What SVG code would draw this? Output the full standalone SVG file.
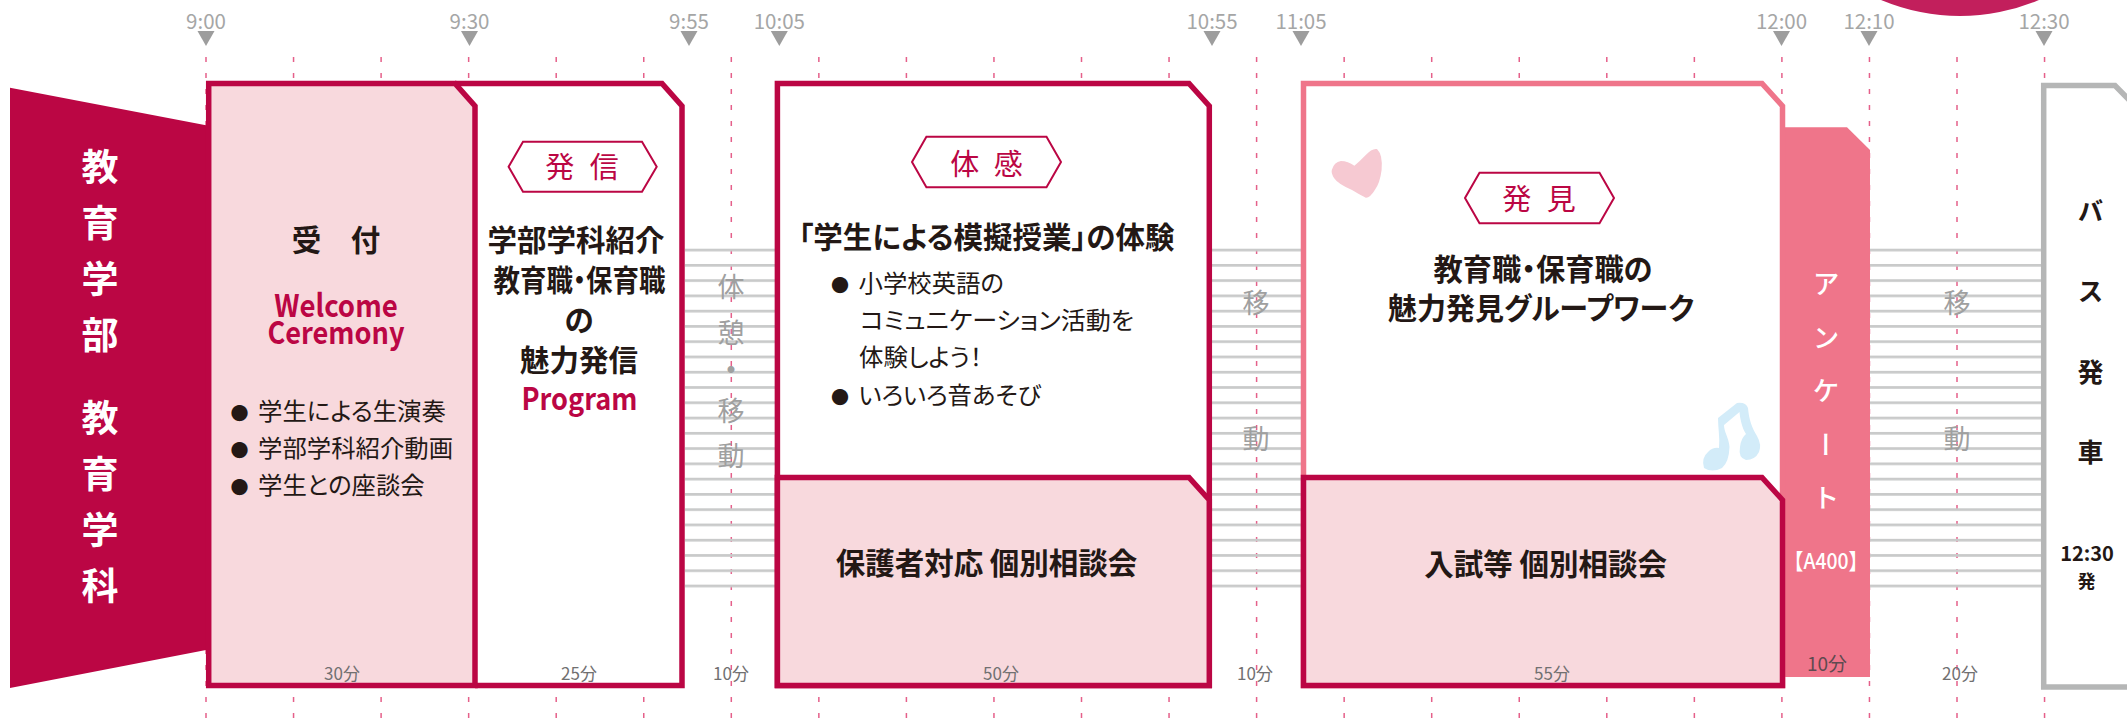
<svg xmlns="http://www.w3.org/2000/svg" xmlns:xlink="http://www.w3.org/1999/xlink" width="2127" height="718" viewBox="0 0 2127 718">
<style>
text{font-family:"Noto Sans CJK JP","Noto Sans",sans-serif;}
.time{font-size:20.5px;fill:#a5a6a6;text-anchor:middle;}
.dur{font-size:17px;fill:#717071;text-anchor:middle;}
.head{font-size:29.5px;font-weight:700;fill:#231815;text-anchor:middle;font-feature-settings:"palt";}
.en{font-size:31px;font-weight:700;fill:#bb0644;text-anchor:middle;}
.li{font-size:24.4px;fill:#231815;font-feature-settings:"palt";}
.bu{font-size:18px;}
.tag{font-size:29px;font-weight:400;fill:#bb0644;text-anchor:middle;word-spacing:9px;}
.hex{fill:#fff;stroke:#bb0644;stroke-width:2;}
.v{writing-mode:vertical-rl;}
.ban{font-size:37px;font-weight:700;fill:#fff;letter-spacing:19px;}
.gr{font-size:27px;font-weight:400;fill:#9fa0a0;}
.red{stroke:#bb0644;stroke-width:5.5;}
.pk{fill:#f8d9dd;}
.wh{fill:#fff;}
</style>
<defs>
<path id="tri" d="M-8.5 31H8.5L0 46Z" fill="#9d9d9d"/>
<pattern id="stripes" patternUnits="userSpaceOnUse" width="10" height="15.27" patternTransform="translate(0,248.7)">
<rect width="10" height="2.7" fill="#c9caca"/>
</pattern>
</defs>

<circle id="corner-circle" cx="1960" cy="-187" r="203" fill="#c21f5c"/>

<g id="connectors">
<path fill="none" stroke="#e5608a" stroke-width="1.5" stroke-dasharray="5 11" d="M206 57V718M293.55 57V718M381.1 57V718M468.65 57V718M556.2 57V718M643.75 57V718M731.3 57V718M818.85 57V718M906.4 57V718M993.95 57V718M1081.5 57V718M1169.05 57V718M1256.6 57V718M1344.15 57V718M1431.7 57V718M1519.25 57V718M1606.8 57V718M1694.35 57V718M1781.9 57V718M1869.45 57V718M1957 57V718M2044.55 57V718"/>
<rect x="685" y="248" width="91" height="340" fill="url(#stripes)"/>
<rect x="1212" y="248" width="90" height="340" fill="url(#stripes)"/>
<rect x="1869" y="248" width="173" height="340" fill="url(#stripes)"/>
</g>

<g id="time-marks">
<use xlink:href="#tri" x="206"/><use xlink:href="#tri" x="469.5"/><use xlink:href="#tri" x="689"/><use xlink:href="#tri" x="779.3"/><use xlink:href="#tri" x="1212"/><use xlink:href="#tri" x="1301"/><use xlink:href="#tri" x="1781.5"/><use xlink:href="#tri" x="1869"/><use xlink:href="#tri" x="2044"/>
<text class="time" x="206" y="29">9:00</text>
<text class="time" x="469.5" y="29">9:30</text>
<text class="time" x="689" y="29">9:55</text>
<text class="time" x="779.3" y="29">10:05</text>
<text class="time" x="1212" y="29">10:55</text>
<text class="time" x="1301" y="29">11:05</text>
<text class="time" x="1781.5" y="29">12:00</text>
<text class="time" x="1869" y="29">12:10</text>
<text class="time" x="2044" y="29">12:30</text>
</g>

<g id="banner">
<path d="M10 87.7L206 125.3V650L10 688Z" fill="#bb0644"/>
<text class="v ban" x="100" y="148.5">教育学部</text>
<text class="v ban" x="100" y="399">教育学科</text>
</g>

<g id="node-hasshin">
<path class="red wh" d="M455 83.5H662L682 106V685.5H475"/>
<path class="hex" d="M508.6 166.7L523 141.7H642L656.7 166.7L642 191.7H523Z"/>
<text class="tag" x="582" y="178">発 信</text>
<text class="head" x="576" y="251">学部学科紹介</text>
<text class="head" x="579.5" y="291" textLength="172" lengthAdjust="spacingAndGlyphs">教育職・保育職</text>
<text class="head" x="579" y="331">の</text>
<text class="head" x="579" y="371">魅力発信</text>
<text class="en" x="579.5" y="409.7" textLength="116" lengthAdjust="spacingAndGlyphs" style="font-size:31px">Program</text>
<text class="dur" x="579" y="679.5">25分</text>
</g>

<g id="node-uketsuke">
<path class="red pk" d="M208.7 83.5H455L475 106V685.5H208.7Z"/>
<text class="head" x="336" y="251" xml:space="preserve">受　付</text>
<text class="en" x="336" y="317" textLength="123.6" lengthAdjust="spacingAndGlyphs">Welcome</text>
<text class="en" x="336" y="343.5" textLength="137" lengthAdjust="spacingAndGlyphs">Ceremony</text>
<text class="li" y="419.5"><tspan class="bu" x="230.5">●</tspan><tspan x="258">学生による生演奏</tspan></text>
<text class="li" y="457"><tspan class="bu" x="230.5">●</tspan><tspan x="258">学部学科紹介動画</tspan></text>
<text class="li" y="494"><tspan class="bu" x="230.5">●</tspan><tspan x="258">学生との座談会</tspan></text>
<text class="dur" x="342" y="679.5">30分</text>
</g>

<g id="node-break1">
<text class="v gr" x="731" y="273.5" style="letter-spacing:19px">体憩</text>
<text class="gr" x="731" y="380" text-anchor="middle" style="font-weight:700">・</text>
<text class="v gr" x="731" y="397" style="letter-spacing:18.5px">移動</text>
<text class="dur" x="731" y="679.5">10分</text>
</g>

<g id="node-taikan">
<path class="red wh" d="M777.4 83.5H1189L1209.3 106V685.5H777.4Z"/>
<path class="hex" d="M912 162L926.4 136.7H1046.5L1061 162L1046.5 187.3H926.4Z"/>
<text class="tag" x="986.5" y="175" style="word-spacing:8px">体 感</text>
<text class="head" x="986.5" y="248" textLength="376" lengthAdjust="spacingAndGlyphs">「学生による模擬授業」の体験</text>
<text class="li" y="292"><tspan class="bu" x="831">●</tspan><tspan x="858.5">小学校英語の</tspan></text>
<text class="li" x="860" y="329" textLength="274" lengthAdjust="spacingAndGlyphs">コミュニケーション活動を</text>
<text class="li" x="859" y="366">体験しよう！</text>
<text class="li" y="404"><tspan class="bu" x="831">●</tspan><tspan x="858.5">いろいろ音あそび</tspan></text>
<path class="red pk" d="M777.4 477.5H1189L1209.3 500V685.5H777.4Z"/>
<text class="head" x="986.5" y="574">保護者対応 個別相談会</text>
<text class="dur" x="1001" y="679.5">50分</text>
</g>

<g id="node-move1">
<text class="v gr" x="1256" y="289" style="letter-spacing:109px">移動</text>
<text class="dur" x="1255" y="679.5">10分</text>
</g>

<g id="node-enquete">
<path d="M1780 127.3H1847L1870 150V677H1780Z" fill="#ef758a"/>
<text class="v" x="1826" y="270.5" style="font-size:27px;font-weight:500;fill:#fff;letter-spacing:26.5px">アンケート</text>
<text x="1826" y="568.7" text-anchor="middle" textLength="84" lengthAdjust="spacingAndGlyphs" style="font-size:22px;font-weight:500;fill:#fff">【A400】</text>
<text x="1827" y="671" text-anchor="middle" style="font-size:19px;fill:#5f4a50">10分</text>
</g>

<g id="node-hakken">
<path d="M1303.5 83.5H1762L1782.5 106V685.5H1303.5Z" fill="#fff" stroke="#ef758a" stroke-width="5.5"/>
<path d="M1365.8 155Q1372 148 1377 149Q1383 155 1381.6 170Q1380 183 1374.8 190Q1370 198 1365.8 197.7Q1362 196 1352 190Q1338 184 1334 178Q1331 173 1331.8 170Q1334 162 1340.9 161Q1348 161 1354.4 165.7Q1360 161 1365.8 155Z" fill="#f6c9d2"/>
<path d="M1718 418L1737 403Q1746 402 1748 408C1749 420 1752 428 1757 436Q1762 445 1759 452Q1755 460 1746 460Q1738 458 1740 447Q1741 438 1746 434C1742 428 1740 418 1739.5 412L1724 425C1724 432 1729 438 1729.5 447Q1729 462 1722 468Q1712 473 1704 468Q1701 458 1708 452Q1713 447 1719 448C1720 438 1718 428 1718 418Z" fill="#d3ecf9"/>
<path class="hex" d="M1465 198L1479.5 172.7H1599.5L1614 198L1599.5 223.3H1479.5Z"/>
<text class="tag" x="1539" y="210">発 見</text>
<text class="head" x="1543" y="280" textLength="219" lengthAdjust="spacingAndGlyphs">教育職・保育職の</text>
<text class="head" x="1541" y="319" textLength="306" lengthAdjust="spacingAndGlyphs">魅力発見グループワーク</text>
<path class="red pk" d="M1303.5 477.5H1762L1782.5 500V685.5H1303.5Z"/>
<text class="head" x="1545.6" y="574.5">入試等 個別相談会</text>
<text class="dur" x="1552" y="679.5">55分</text>
</g>

<g id="node-move2">
<text class="v gr" x="1957" y="289" style="letter-spacing:109px">移動</text>
<text class="dur" x="1960" y="679.5">20分</text>
</g>

<g id="node-bus">
<path d="M2160 687H2043.7V85.5H2115L2137 108V687" fill="#fff" stroke="#b5b6b6" stroke-width="5.5"/>
<text class="v" x="2090.5" y="197.7" style="font-size:26px;font-weight:700;fill:#231815;letter-spacing:54.5px">バス発車</text>
<text x="2087" y="561" text-anchor="middle" style="font-size:20px;font-weight:700;fill:#231815">12:30</text>
<text x="2086.5" y="588" text-anchor="middle" style="font-size:18px;font-weight:700;fill:#231815">発</text>
</g>
</svg>
